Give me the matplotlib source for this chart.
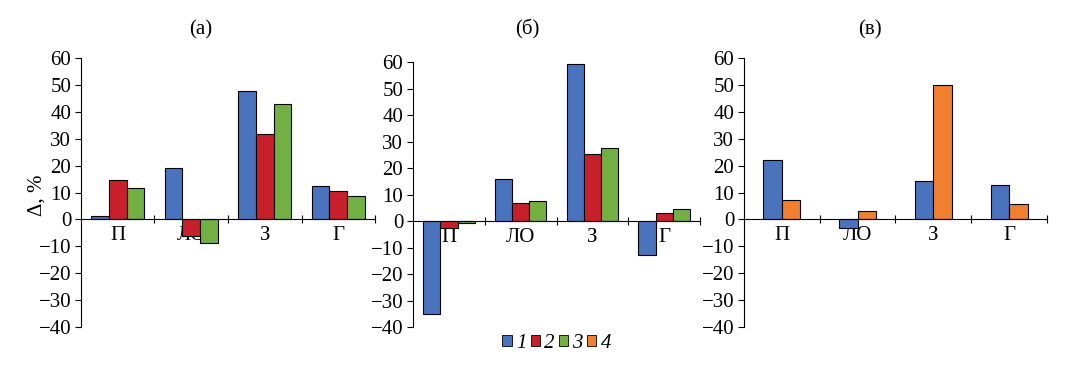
import matplotlib
matplotlib.use("Agg")
import matplotlib.pyplot as plt
from matplotlib.patches import Patch

plt.rcParams.update({"font.family": ["Liberation Serif", "DejaVu Serif"], "font.size": 15})

cats = ["П", "ЛО", "З", "Г"]
panel_titles = ["(а)", "(б)", "(в)"]
# panel (а)
a1 = [1.2, 19.1, 47.8, 12.5]
a2 = [14.5, -6.1, 31.6, 10.4]
a3 = [11.6, -8.7, 42.9, 8.7]
# panel (б)
b1 = [-35.0, 16.0, 59.4, -12.7]
b2 = [-2.6, 6.8, 25.3, 3.0]
b3 = [-0.9, 7.5, 27.4, 4.7]
# panel (в)
c1 = [22.0, -3.2, 14.2, 12.8]
c4 = [7.4, 3.0, 50.0, 5.8]
series_labels = ["1", "2", "3", "4"]

blue, red, green, orange = "#4A73BE", "#C8202A", "#72B043", "#F07F30"

fig = plt.figure(figsize=(10.77, 3.69), dpi=100)
boxes = [[0.0752, 0.1138, 0.273, 0.729],
         [0.3835, 0.1138, 0.2665, 0.718],
         [0.6908, 0.1138, 0.2813, 0.729]]
groups = [([a1, a2, a3], [blue, red, green]),
          ([b1, b2, b3], [blue, red, green]),
          ([c1, c4], [blue, orange])]
title_x = [0.186, 0.490, 0.808]

for box, (ser, cols), tx, tt in zip(boxes, groups, title_x, panel_titles):
    ax = fig.add_axes(box)
    n = len(ser)
    w = 0.24 if n == 3 else 0.245
    x = list(range(len(cats)))
    for k, (vals, col) in enumerate(zip(ser, cols)):
        off = (k - (n - 1) / 2) * w
        ax.bar([xi + off for xi in x], vals, width=w, color=col,
               edgecolor="black", linewidth=0.8, zorder=2)
    ax.set_xlim(-0.5, 3.5)
    ax.set_ylim(-40, 60)
    ax.set_yticks(range(-40, 61, 10))
    ax.spines["top"].set_visible(False)
    ax.spines["right"].set_visible(False)
    ax.spines["bottom"].set_position(("data", 0))
    ax.spines["bottom"].set_zorder(3)
    ax.set_xticks(x)
    ax.set_xticklabels(cats)
    ax.set_xticks([0.5, 1.5, 2.5, 3.5], minor=True)
    ax.tick_params(axis="x", which="major", length=0, pad=5, labelsize=15)
    ax.tick_params(axis="x", which="minor", direction="inout", length=6, width=0.8)
    ax.tick_params(axis="y", direction="out", length=4, width=0.8, pad=3, labelsize=15)
    for s in ("left", "bottom"):
        ax.spines[s].set_linewidth(0.8)
    fig.text(tx, 0.919, tt, ha="center", va="center", fontsize=15)

fig.text(0.034, 0.47, "Δ, %", rotation=90, ha="center", va="center", fontsize=15)

handles = [Patch(facecolor=c, edgecolor="black", linewidth=0.6)
           for c in (blue, red, green, orange)]
leg = fig.legend(handles, series_labels, loc="center", bbox_to_anchor=(0.517, 0.07),
                 ncol=4, frameon=False, handlelength=0.45, handleheight=0.45,
                 handletextpad=0.2, columnspacing=0.2, borderaxespad=0,
                 prop={"style": "italic", "size": 15})

fig.savefig("out.png", dpi=100)
